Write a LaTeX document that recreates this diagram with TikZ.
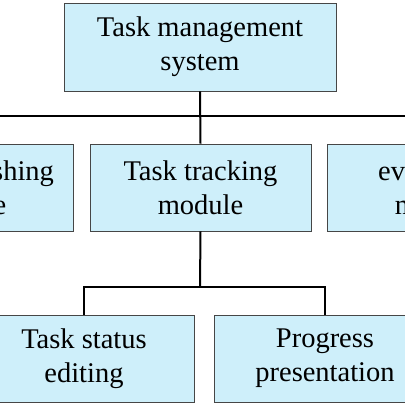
\documentclass[tikz,border=0pt]{standalone}
\usepackage{fontspec}
\setmainfont{Liberation Serif}
\definecolor{boxfill}{RGB}{206,239,250}
\definecolor{boxline}{RGB}{70,70,70}
\begin{document}
\begin{tikzpicture}[x=1pt,y=-1pt,
  mbox/.style={draw=boxline,line width=0.9pt,fill=boxfill,rectangle,inner sep=0pt,
    align=center,font=\fontsize{28.5}{34}\selectfont,text=black},
  conn/.style={line width=2pt,black}]
\useasboundingbox (0,0) rectangle (405,405);
\clip (0,0) rectangle (405,405);
\node[mbox,minimum width=272pt,minimum height=88pt] (top) at (200,47) {Task management\\system};
\node[mbox,minimum width=219pt,minimum height=87pt] (left) at (-36.5,187.5) {Task publishing\\module};
\node[mbox,minimum width=221pt,minimum height=87pt] (mid) at (200.5,187.5) {Task tracking\\module};
\node[mbox,minimum width=221pt,minimum height=87pt] (right) at (437.5,187.5) {evaluation\\module};
\node[mbox,minimum width=220pt,minimum height=87pt] (bl) at (84,358.5) {Task status\\editing};
\node[mbox,minimum width=222pt,minimum height=87pt] (br) at (325,358.5) {Progress\\presentation};
\coordinate (j1) at (200,116);
\coordinate (j2) at (200,287);
\draw[conn] (top.south) -- (mid.north);
\draw[conn] (left.north) |- (j1) -| (right.north);
\draw[conn] (mid.south) -- (j2);
\draw[conn] (bl.north) |- (j2) -| (br.north);
\end{tikzpicture}
\end{document}
